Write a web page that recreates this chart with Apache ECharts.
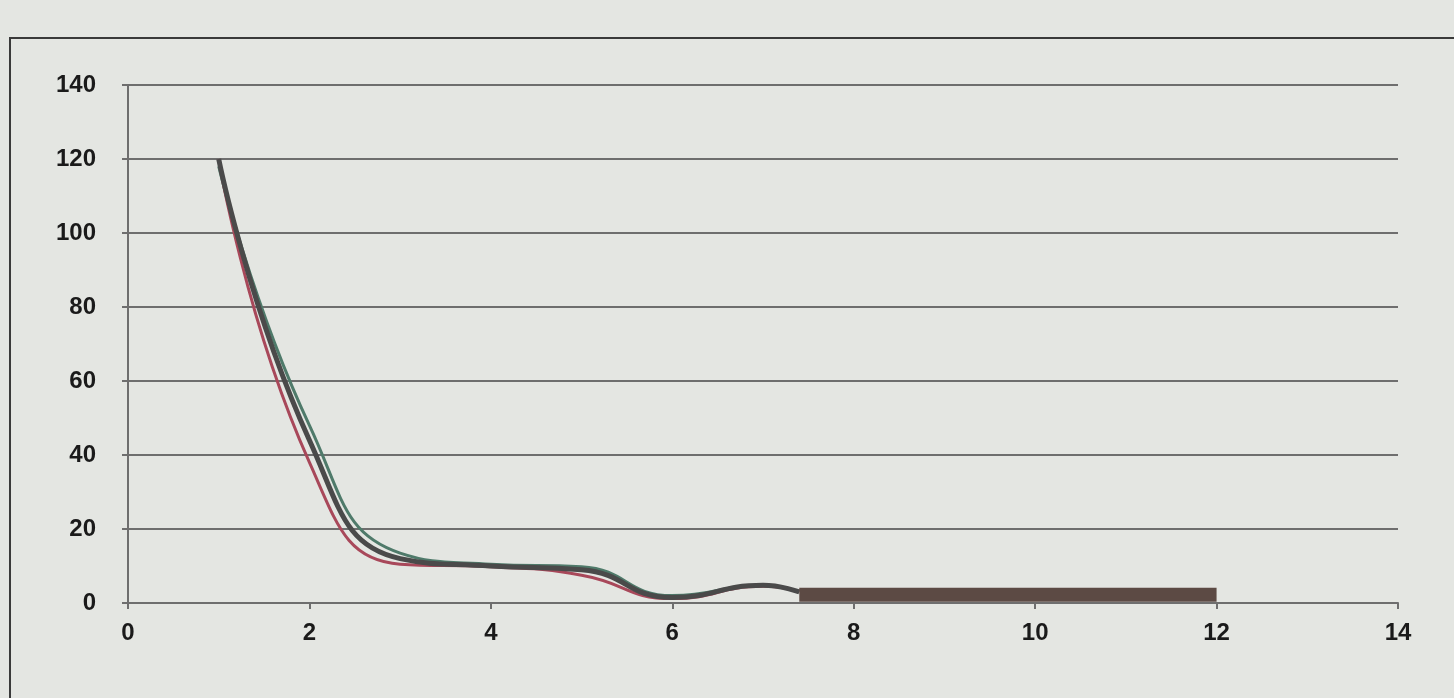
<!DOCTYPE html>
<html><head><meta charset="utf-8">
<style>html,body{margin:0;padding:0;background:#e4e6e2;}#c{width:1454px;height:698px;}</style>
<script src="https://cdn.jsdelivr.net/npm/echarts@6/dist/echarts.min.js"></script>
</head><body><div id="c"></div>
<script>
var xTicks = [0, 2, 4, 6, 8, 10, 12, 14];
var yTicks = [0, 20, 40, 60, 80, 100, 120, 140];
var seriesGray  = [[1,120],[2,44],[3,12],[4,10],[5,9],[6,1.5],[7,4.8],[7.4,3]];
var seriesRed   = [[1,120],[2,38],[3,10.5],[4,9.8],[5,7.5],[6,1.2],[7,4.5],[7.4,3]];
var seriesGreen = [[1,118],[2,48],[3,13.5],[4,10.5],[5,9.8],[6,2],[7,4.8],[7.4,3]];
var seriesFlat  = [[7.4,2.2],[12,2.2]];

var chart = echarts.init(document.getElementById('c'));
chart.setOption({
  backgroundColor: '#e4e6e2',
  animation: false,
  graphic: [{
    type: 'rect', shape: {x: 10, y: 38, width: 1460, height: 680},
    style: {fill: 'none', stroke: '#3a3a3a', lineWidth: 2}, z: -1
  }],
  grid: {left: 128, right: 56, top: 85, bottom: 95},
  xAxis: {
    type: 'value', min: 0, max: 14, interval: 2,
    axisLine: {show: true, lineStyle: {color: '#6e6e6e', width: 2}},
    axisTick: {show: true, length: 6, lineStyle: {color: '#6e6e6e', width: 2}},
    splitLine: {show: false},
    axisLabel: {color: '#1a1a1a', fontSize: 24, fontWeight: 'bold', fontFamily: 'Liberation Sans', margin: 18,
      formatter: function(v){ return xTicks.indexOf(v) >= 0 ? String(v) : ''; }}
  },
  yAxis: {
    type: 'value', min: 0, max: 140, interval: 20,
    axisLine: {show: true, lineStyle: {color: '#6e6e6e', width: 2}},
    axisTick: {show: true, length: 6, lineStyle: {color: '#6e6e6e', width: 2}},
    splitLine: {show: true, lineStyle: {color: '#6e6e6e', width: 2}},
    axisLabel: {color: '#1a1a1a', fontSize: 24, fontWeight: 'bold', fontFamily: 'Liberation Sans', margin: 32,
      formatter: function(v){ return yTicks.indexOf(v) >= 0 ? String(v) : ''; }}
  },
  series: [
    {type: 'line', data: seriesGreen, smooth: 0.5, symbol: 'none', lineStyle: {color: '#4f7a6a', width: 3}, z: 2},
    {type: 'line', data: seriesRed, smooth: 0.5, symbol: 'none', lineStyle: {color: '#a8485a', width: 3}, z: 3},
    {type: 'line', data: seriesGray, smooth: 0.5, symbol: 'none', lineStyle: {color: '#4a4a4a', width: 5}, z: 4},
    {type: 'line', data: seriesFlat, symbol: 'none', lineStyle: {color: '#5c4a44', width: 14}, z: 5}
  ]
});
</script></body></html>
